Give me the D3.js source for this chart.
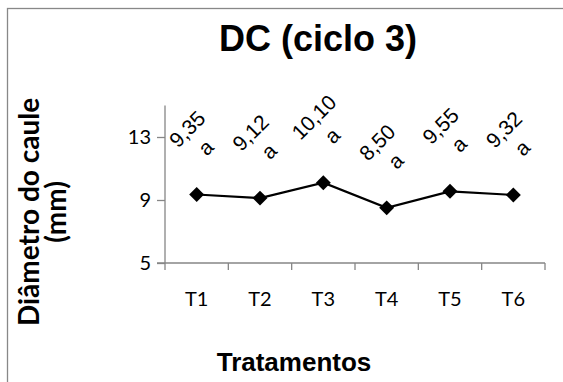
<!DOCTYPE html>
<html>
<head>
<meta charset="utf-8">
<script src="https://cdn.jsdelivr.net/npm/d3@7/dist/d3.min.js"></script>
<style>
  html, body { margin: 0; padding: 0; background: #fff; }
  svg { display: block; }
</style>
</head>
<body>
<svg id="chart" width="563" height="382"></svg>
<script>
// Stem diameter per treatment, cycle 3
const categories = ["T1", "T2", "T3", "T4", "T5", "T6"];
const values = [9.35, 9.12, 10.10, 8.50, 9.55, 9.32];
const valueLabels = ["9,35", "9,12", "10,10", "8,50", "9,55", "9,32"];
const groupLetters = ["a", "a", "a", "a", "a", "a"];
const yTicks = [5, 9, 13];

const svg = d3.select("#chart");
const axisColor = "#868686";

// chart frame
svg.append("rect")
  .attr("x", 7.5).attr("y", 8.5)
  .attr("width", 600).attr("height", 400)
  .attr("fill", "none").attr("stroke", "#888").attr("stroke-width", 1.3);

const plot = { left: 165, right: 545, top: 105.5, bottom: 263 };

const x = d3.scaleBand().domain(categories).range([plot.left, plot.right]);
const y = d3.scaleLinear().domain([5, 15]).range([plot.bottom, plot.top]);

// title
svg.append("text")
  .attr("x", 318).attr("y", 51)
  .attr("text-anchor", "middle")
  .style("font-family", "Arial, 'Liberation Sans', sans-serif")
  .style("font-weight", "bold").style("font-size", "36px")
  .text("DC (ciclo 3)");

// y axis
const yAxis = svg.append("g")
  .attr("transform", `translate(${plot.left},0)`)
  .call(d3.axisLeft(y).tickValues(yTicks).tickSize(8).tickPadding(6).tickFormat(d3.format("d")));
yAxis.select(".domain").attr("d", `M0,${plot.top}V${plot.bottom}`);
yAxis.selectAll("line, .domain").attr("stroke", axisColor).attr("stroke-width", 1.3);
yAxis.selectAll("text")
  .style("font-family", "Lato, 'Open Sans', sans-serif")
  .style("font-size", "20px").attr("fill", "#000");

// x axis: ticks on category boundaries
const boundaries = categories.map(c => x(c)).concat([plot.right]);
const xAxisG = svg.append("g").attr("transform", `translate(0,${plot.bottom})`);
xAxisG.append("line")
  .attr("x1", plot.left - 8).attr("x2", plot.right)
  .attr("stroke", axisColor).attr("stroke-width", 1.3);
xAxisG.selectAll(".bt").data(boundaries).enter().append("line")
  .attr("x1", d => d).attr("x2", d => d)
  .attr("y1", 0).attr("y2", 7)
  .attr("stroke", axisColor).attr("stroke-width", 1.3);
xAxisG.selectAll(".cl").data(categories).enter().append("text")
  .attr("x", d => x(d) + x.bandwidth() / 2)
  .attr("y", 43)
  .attr("text-anchor", "middle")
  .style("font-family", "Lato, 'Open Sans', sans-serif")
  .style("font-size", "20px")
  .text(d => d);

// axis titles
svg.append("text")
  .attr("x", 294).attr("y", 371)
  .attr("text-anchor", "middle")
  .style("font-family", "Arial, 'Liberation Sans', sans-serif")
  .style("font-weight", "bold").style("font-size", "26px")
  .text("Tratamentos");

const yTitle = svg.append("text")
  .attr("transform", "translate(39,212) rotate(-90)")
  .attr("text-anchor", "middle")
  .style("font-family", "Lato, 'Open Sans', sans-serif")
  .style("font-weight", "bold").style("font-size", "28px");
yTitle.append("tspan").attr("x", 0).attr("y", 0).text("Diâmetro do caule");
yTitle.append("tspan").attr("x", 0).attr("y", 27).text("(mm)");

// series line and markers
const pts = categories.map((c, i) => ({ c, v: values[i], lab: valueLabels[i], g: groupLetters[i] }));
const cx = d => x(d.c) + x.bandwidth() / 2;

svg.append("path")
  .datum(pts)
  .attr("fill", "none").attr("stroke", "#000").attr("stroke-width", 2.2)
  .attr("d", d3.line().x(cx).y(d => y(d.v)));

svg.selectAll(".mk").data(pts).enter().append("path")
  .attr("d", d3.symbol(d3.symbolSquare, 112)())
  .attr("transform", d => `translate(${cx(d)},${y(d.v)}) rotate(45)`)
  .attr("fill", "#000");

// rotated data labels with group letters
const lg = svg.selectAll(".lb").data(pts).enter().append("g")
  .attr("transform", d => `translate(${cx(d)},${y(d.v) - 56}) rotate(-45)`);
const lt = lg.append("text")
  .attr("text-anchor", "middle")
  .style("font-family", "Arial, 'Liberation Sans', sans-serif")
  .style("font-size", "21px");
lt.append("tspan").attr("x", 0).attr("y", -6).text(d => d.lab);
lt.append("tspan").attr("x", 0).attr("y", 20).text(d => d.g);
</script>
</body>
</html>
